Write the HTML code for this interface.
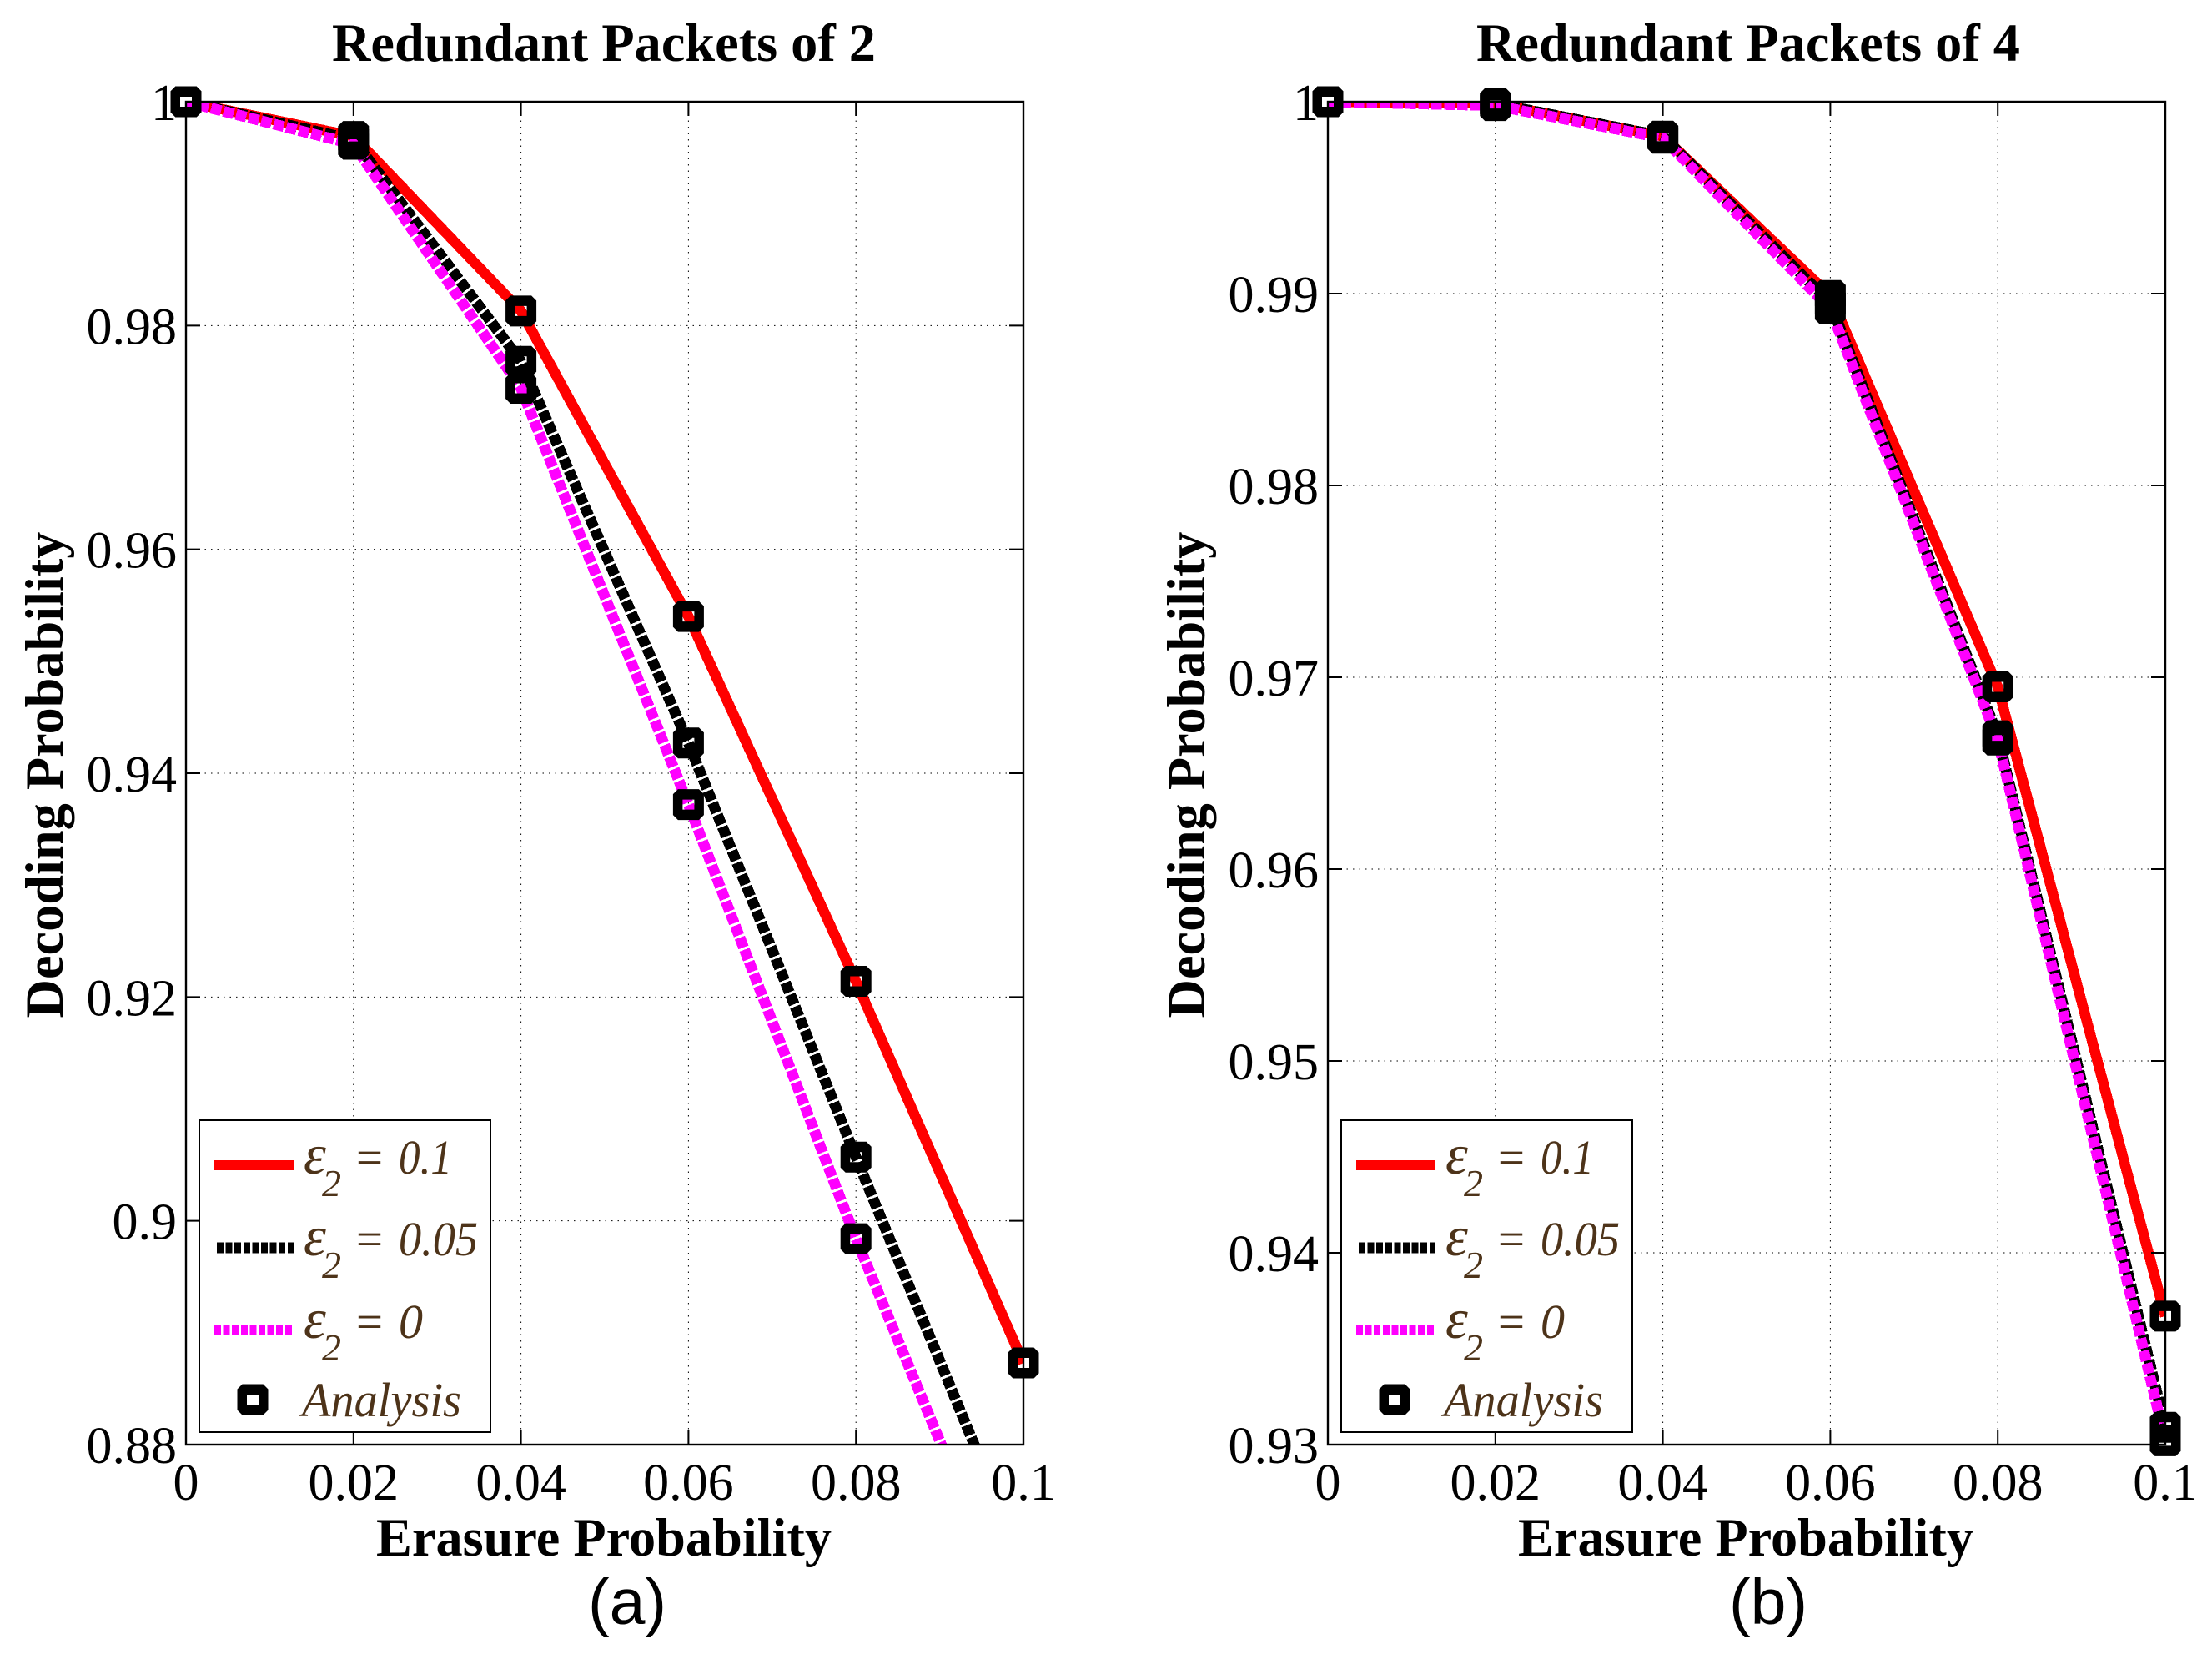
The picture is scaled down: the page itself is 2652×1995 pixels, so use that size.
<!DOCTYPE html>
<html lang="en">
<head>
<meta charset="utf-8">
<title>Decoding Probability vs Erasure Probability</title>
<style>
html,body{margin:0;padding:0;background:#fff;}
svg{display:block;}
text{font-family:"Liberation Serif",serif;fill:#000;}
.tick{font-size:62px;}
.head{font-size:64.3px;font-weight:bold;}
.cap{font-family:"Liberation Sans",sans-serif;font-size:77px;}
.leg{font-style:italic;font-size:58px;fill:#4d3319;}
.sub{font-style:italic;font-size:46px;fill:#4d3319;}
.eps{font-style:italic;font-size:68px;fill:#4d3319;}
.eqn{font-size:57px;fill:#4d3319;}
</style>
</head>
<body>
<svg id="figure" xmlns="http://www.w3.org/2000/svg" width="2652" height="1995" viewBox="0 0 2652 1995">
<rect width="2652" height="1995" fill="#fff"/>
<defs>
<clipPath id="clip-a"><rect x="223" y="122" width="1004" height="1610"/></clipPath>
<clipPath id="clip-b"><rect x="1592" y="122" width="1004" height="1610"/></clipPath>
</defs>
<g id="panel-a"></g>
<g id="panel-b"></g>

<text class="head" x="398" y="73">Redundant Packets of 2</text>
<text class="head" x="1770" y="73">Redundant Packets of 4</text>
<text class="head" x="724" y="1865" text-anchor="middle">Erasure Probability</text>
<text class="head" x="2093" y="1865" text-anchor="middle">Erasure Probability</text>
<text class="head" transform="translate(75 929) rotate(-90)" text-anchor="middle">Decoding Probability</text>
<text class="head" transform="translate(1444 929) rotate(-90)" text-anchor="middle">Decoding Probability</text>
<text class="cap" x="752" y="1947" text-anchor="middle">(a)</text>
<text class="cap" x="2120" y="1947" text-anchor="middle">(b)</text>

<g>
  <rect x="239" y="1343" width="349" height="374" fill="#fff" stroke="#000" stroke-width="2"/>
  <line x1="257" x2="352" y1="1397" y2="1397" stroke="#ff0000" stroke-width="12" shape-rendering="crispEdges"/>
  <line x1="260" x2="352" y1="1496" y2="1496" stroke="#000" stroke-width="13" stroke-dasharray="8 2.6" shape-rendering="crispEdges"/>
  <line x1="257" x2="352" y1="1595" y2="1595" stroke="#ff00ff" stroke-width="12" stroke-dasharray="8 2.6" shape-rendering="crispEdges"/>
  <path transform="translate(303 1678)" fill-rule="evenodd" d="M-12.5 -18.5H12.5L18.5 -12.5V12.5L12.5 18.5H-12.5L-18.5 12.5V-12.5ZM-7 -6V6H7V-6Z"/>
  <text class="eps" x="364" y="1407">ε</text><text class="sub" x="386" y="1434">2</text><text class="eqn" x="427" y="1407" textLength="32" lengthAdjust="spacingAndGlyphs">=</text><text class="leg" x="478" y="1407" textLength="64" lengthAdjust="spacingAndGlyphs">0.1</text>
  <text class="eps" x="364" y="1505">ε</text><text class="sub" x="386" y="1532">2</text><text class="eqn" x="427" y="1505" textLength="32" lengthAdjust="spacingAndGlyphs">=</text><text class="leg" x="478" y="1505" textLength="95" lengthAdjust="spacingAndGlyphs">0.05</text>
  <text class="eps" x="364" y="1604">ε</text><text class="sub" x="386" y="1631">2</text><text class="eqn" x="427" y="1604" textLength="32" lengthAdjust="spacingAndGlyphs">=</text><text class="leg" x="478" y="1604">0</text>
  <text class="leg" x="362" y="1698" textLength="191" lengthAdjust="spacingAndGlyphs">Analysis</text>
</g>

<g transform="translate(1369 0)">
  <rect x="239" y="1343" width="349" height="374" fill="#fff" stroke="#000" stroke-width="2"/>
  <line x1="257" x2="352" y1="1397" y2="1397" stroke="#ff0000" stroke-width="12" shape-rendering="crispEdges"/>
  <line x1="260" x2="352" y1="1496" y2="1496" stroke="#000" stroke-width="13" stroke-dasharray="8 2.6" shape-rendering="crispEdges"/>
  <line x1="257" x2="352" y1="1595" y2="1595" stroke="#ff00ff" stroke-width="12" stroke-dasharray="8 2.6" shape-rendering="crispEdges"/>
  <path transform="translate(303 1678)" fill-rule="evenodd" d="M-12.5 -18.5H12.5L18.5 -12.5V12.5L12.5 18.5H-12.5L-18.5 12.5V-12.5ZM-7 -6V6H7V-6Z"/>
  <text class="eps" x="364" y="1407">ε</text><text class="sub" x="386" y="1434">2</text><text class="eqn" x="427" y="1407" textLength="32" lengthAdjust="spacingAndGlyphs">=</text><text class="leg" x="478" y="1407" textLength="64" lengthAdjust="spacingAndGlyphs">0.1</text>
  <text class="eps" x="364" y="1505">ε</text><text class="sub" x="386" y="1532">2</text><text class="eqn" x="427" y="1505" textLength="32" lengthAdjust="spacingAndGlyphs">=</text><text class="leg" x="478" y="1505" textLength="95" lengthAdjust="spacingAndGlyphs">0.05</text>
  <text class="eps" x="364" y="1604">ε</text><text class="sub" x="386" y="1631">2</text><text class="eqn" x="427" y="1604" textLength="32" lengthAdjust="spacingAndGlyphs">=</text><text class="leg" x="478" y="1604">0</text>
  <text class="leg" x="362" y="1698" textLength="191" lengthAdjust="spacingAndGlyphs">Analysis</text>
</g>
</svg>

<script>
const xCategories = [0, 0.02, 0.04, 0.06, 0.08, 0.1];
const xTickLabels = ['0', '0.02', '0.04', '0.06', '0.08', '0.1'];

const yTicksA = [0.88, 0.9, 0.92, 0.94, 0.96, 0.98, 1];
const yTickLabelsA = ['0.88', '0.9', '0.92', '0.94', '0.96', '0.98', '1'];
const redA = [1, 0.9969, 0.9813, 0.9540, 0.9214, 0.8873];
const blackA = [1, 0.9966, 0.9768, 0.9427, 0.9057, 0.8693];
const magentaA = [1, 0.9962, 0.9744, 0.9372, 0.8984, 0.8623];

const yTicksB = [0.93, 0.94, 0.95, 0.96, 0.97, 0.98, 0.99, 1];
const yTickLabelsB = ['0.93', '0.94', '0.95', '0.96', '0.97', '0.98', '0.99', '1'];
const redB = [1, 0.9999, 0.9982, 0.9899, 0.9695, 0.9367];
const blackB = [1, 0.9999, 0.9982, 0.9895, 0.96695, 0.9309];
const magentaB = [1, 0.9998, 0.9981, 0.9892, 0.96673, 0.9302];

const NS = 'http://www.w3.org/2000/svg';

function make(tag, parent, geometry) {
  const el = document.createElementNS(NS, tag);
  for (const key in geometry) el.setAttribute(key, geometry[key]);
  
  parent.appendChild(el);
  return el;
}

function markerPath(x, y) {
  return 'M' + (x - 12.5) + ' ' + (y - 18.5) + 'H' + (x + 12.5) + 'L' + (x + 18.5) + ' ' + (y - 12.5) +
    'V' + (y + 12.5) + 'L' + (x + 12.5) + ' ' + (y + 18.5) + 'H' + (x - 12.5) + 'L' + (x - 18.5) + ' ' + (y + 12.5) +
    'V' + (y - 12.5) + 'Z' + 'M' + (x - 7) + ' ' + (y - 6) + 'V' + (y + 6) + 'H' + (x + 7) + 'V' + (y - 6) + 'Z';
}

function drawPanel(group, clipId, left, yTicks, yLabels, seriesList) {
  const right = left + 1004, top = 122, bottom = 1732;
  const yMin = yTicks[0], yMax = yTicks[yTicks.length - 1];
  const scaleX = function (v) { return left + (v - 0) / 0.1 * (right - left); };
  const scaleY = function (v) { return bottom - (v - yMin) / (yMax - yMin) * (bottom - top); };

  xCategories.forEach(function (v, i) {
    const px = scaleX(v);
    if (i > 0 && i < xCategories.length - 1) {
      const grid = make('line', group, { x1: px, x2: px, y1: top, y2: bottom, stroke: '#000', 'stroke-width': 1, 'stroke-dasharray': '1.5 6' });
      
    }
  });
  yTicks.forEach(function (v, i) {
    const py = scaleY(v);
    if (i > 0 && i < yTicks.length - 1) {
      const grid = make('line', group, { x1: left, x2: right, y1: py, y2: py, stroke: '#000', 'stroke-width': 1, 'stroke-dasharray': '1.5 6' });
      
    }
  });

  const lines = make('g', group, { 'clip-path': 'url(#' + clipId + ')' });
  
  seriesList.forEach(function (s) {
    const pts = s.values.map(function (v, i) { return scaleX(xCategories[i]) + ',' + scaleY(v); }).join(' ');
    const line = make('polyline', lines, { points: pts, fill: 'none', stroke: s.color, 'stroke-width': s.dashed ? 13 : 12.5, 'stroke-linejoin': 'miter', 'shape-rendering': 'crispEdges' });
    if (s.dashed) line.setAttribute('stroke-dasharray', '12.5 3');
    
  });

  const frame = make('rect', group, { x: left, y: top, width: right - left, height: bottom - top, fill: 'none', stroke: '#000', 'stroke-width': 2.4 });
  

  xCategories.forEach(function (v, i) {
    const px = scaleX(v);
    const tickB = make('line', group, { x1: px, x2: px, y1: bottom, y2: bottom - 17, stroke: '#000', 'stroke-width': 2 });
    
    const tickT = make('line', group, { x1: px, x2: px, y1: top, y2: top + 17, stroke: '#000', 'stroke-width': 2 });
    
    const label = make('text', group, { x: px, y: 1798, 'text-anchor': 'middle', class: 'tick' });
    label.textContent = xTickLabels[i];
    
  });
  yTicks.forEach(function (v, i) {
    const py = scaleY(v);
    const tickL = make('line', group, { x1: left, x2: left + 17, y1: py, y2: py, stroke: '#000', 'stroke-width': 2 });
    
    const tickR = make('line', group, { x1: right, x2: right - 17, y1: py, y2: py, stroke: '#000', 'stroke-width': 2 });
    
    const label = make('text', group, { x: left - 11, y: py + 22, 'text-anchor': 'end', class: 'tick' });
    label.textContent = yLabels[i];
    
  });

  seriesList.forEach(function (s) {
    s.values.forEach(function (v, i) {
      if (v < yMin || v > yMax) return;
      const mark = make('path', group, { d: markerPath(scaleX(xCategories[i]), scaleY(v)), 'fill-rule': 'evenodd', fill: '#000' });
      
    });
  });
}

drawPanel(document.getElementById('panel-a'), 'clip-a', 223, yTicksA, yTickLabelsA, [
  { name: 'series-red-epsilon-0-1', color: '#ff0000', dashed: false, values: redA },
  { name: 'series-black-epsilon-0-05', color: '#000000', dashed: true, values: blackA },
  { name: 'series-magenta-epsilon-0', color: '#ff00ff', dashed: true, values: magentaA }
]);
drawPanel(document.getElementById('panel-b'), 'clip-b', 1592, yTicksB, yTickLabelsB, [
  { name: 'series-red-epsilon-0-1', color: '#ff0000', dashed: false, values: redB },
  { name: 'series-black-epsilon-0-05', color: '#000000', dashed: true, values: blackB },
  { name: 'series-magenta-epsilon-0', color: '#ff00ff', dashed: true, values: magentaB }
]);
</script>
</body>
</html>
